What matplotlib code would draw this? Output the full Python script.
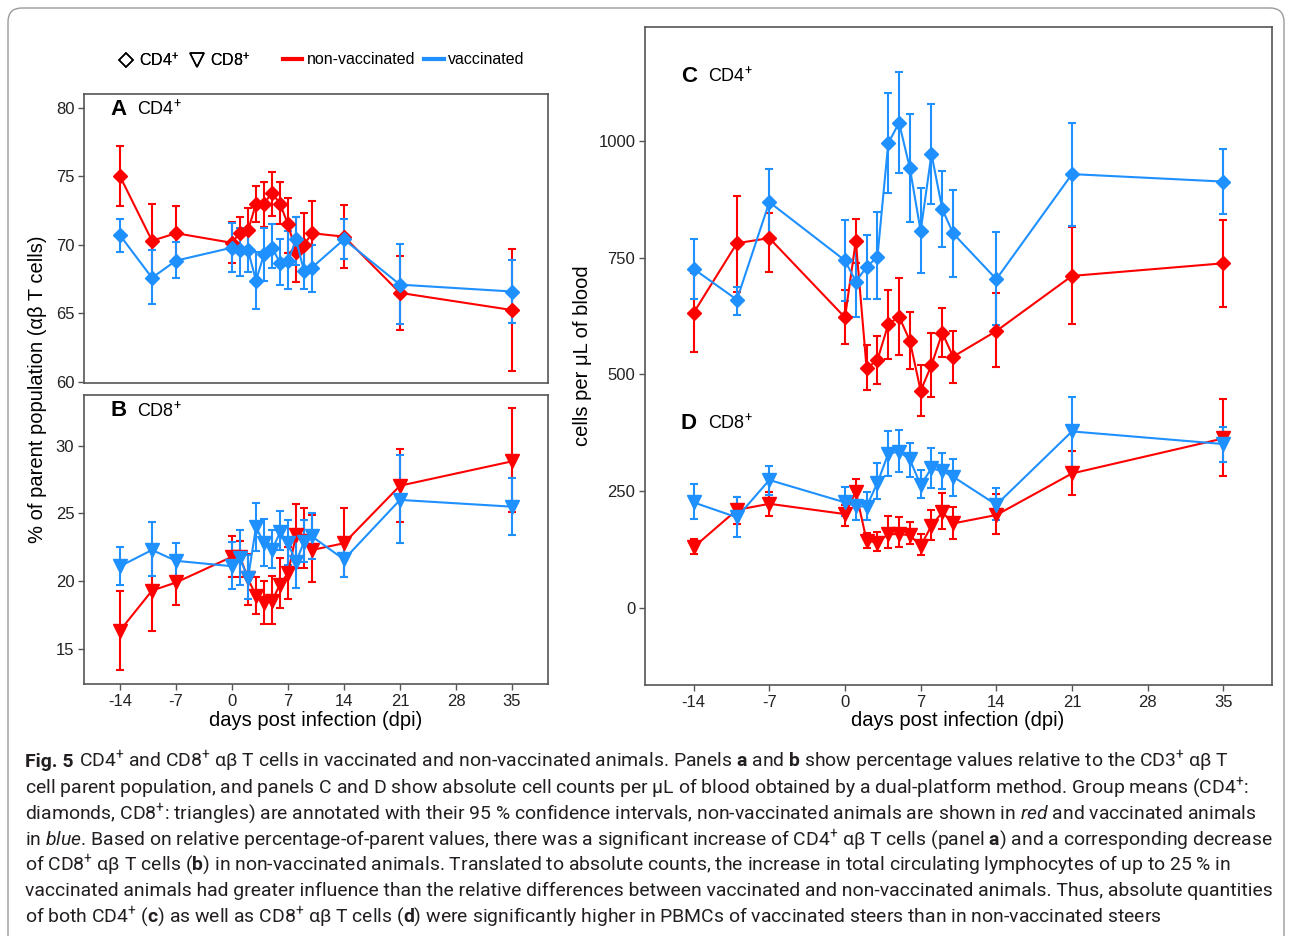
import matplotlib
matplotlib.use("Agg")
import matplotlib.pyplot as plt
from matplotlib.patches import FancyBboxPatch
from matplotlib.lines import Line2D
import numpy as np

plt.rcParams['mathtext.fontset'] = 'custom'
plt.rcParams['mathtext.rm'] = 'Roboto'
plt.rcParams['mathtext.it'] = 'Roboto:italic'
plt.rcParams['mathtext.bf'] = 'Roboto:bold'
plt.rcParams['font.family'] = ['Liberation Sans', 'DejaVu Sans']

# ---------------- data ----------------
days = [-14, -10, -7, 0, 1, 2, 3, 4, 5, 6, 7, 8, 9, 10, 14, 21, 35]
xticks = [-14, -7, 0, 7, 14, 21, 28, 35]

# Panel A: CD4+ % of parent
a_red_mean = [75.0, 70.3, 70.85, 70.15, 70.9, 71.05, 73.0, 73.0, 73.8, 73.0, 71.5, 69.5, 70.0, 70.85, 70.6, 66.5, 65.25]
a_red_lo   = [72.8, 67.6, 68.9, 68.7, 69.8, 69.4, 71.7, 71.3, 72.1, 71.5, 69.4, 67.3, 68.0, 68.3, 68.3, 63.8, 60.8]
a_red_hi   = [77.2, 73.0, 72.8, 71.65, 72.0, 72.7, 74.3, 74.6, 75.3, 74.6, 73.4, 72.0, 72.3, 73.2, 72.9, 69.2, 69.7]
a_blue_mean = [70.7, 67.6, 68.85, 69.8, 69.6, 69.6, 67.4, 69.3, 69.8, 68.7, 68.8, 70.4, 68.1, 68.35, 70.4, 67.1, 66.6]
a_blue_lo   = [69.5, 65.7, 67.6, 68.0, 67.7, 68.05, 65.3, 67.4, 68.3, 67.1, 66.8, 68.5, 66.8, 66.6, 69.0, 64.2, 64.3]
a_blue_hi   = [71.9, 69.6, 70.2, 71.6, 71.2, 71.0, 69.5, 71.2, 71.5, 70.4, 71.0, 72.0, 70.0, 70.0, 71.9, 70.1, 68.9]

# Panel B: CD8+ % of parent
b_red_mean = [16.35, 19.3, 19.9, 21.8, 21.8, 20.2, 18.9, 18.35, 18.55, 19.75, 20.6, 23.4, 23.0, 22.3, 22.8, 27.05, 28.85]
b_red_lo   = [13.4, 16.35, 18.2, 20.3, 20.3, 18.2, 17.55, 16.8, 16.85, 18.0, 18.65, 21.0, 21.0, 19.9, 20.3, 24.4, 25.1]
b_red_hi   = [19.3, 22.3, 21.8, 23.3, 23.0, 22.0, 20.3, 20.0, 20.4, 21.7, 22.5, 25.7, 25.4, 24.85, 25.4, 29.75, 32.8]
b_blue_mean = [21.1, 22.3, 21.5, 21.1, 21.7, 20.2, 24.0, 22.8, 22.3, 23.6, 22.8, 21.4, 22.9, 23.3, 21.6, 26.0, 25.5]
b_blue_lo   = [19.75, 20.4, 20.2, 19.4, 19.7, 18.7, 22.2, 21.1, 21.0, 22.3, 21.2, 19.5, 21.4, 21.6, 20.3, 22.8, 23.4]
b_blue_hi   = [22.5, 24.4, 22.85, 22.9, 23.8, 21.9, 25.8, 24.6, 23.8, 25.2, 24.55, 23.5, 24.5, 25.05, 23.1, 29.3, 27.6]

# Panel C: CD4+ cells per uL
c_red_mean = [632, 781, 792, 622, 786, 513, 531, 607, 624, 572, 465, 520, 589, 538, 593, 711, 738]
c_red_lo   = [549, 677, 720, 565, 738, 466, 479, 533, 542, 512, 411, 451, 538, 481, 517, 608, 645]
c_red_hi   = [717, 883, 845, 681, 832, 562, 583, 681, 706, 633, 520, 588, 642, 592, 674, 816, 831]
c_blue_mean = [726, 660, 869, 744, 699, 730, 752, 995, 1039, 942, 807, 972, 854, 802, 704, 929, 913]
c_blue_lo   = [662, 627, 795, 657, 624, 661, 661, 889, 931, 827, 717, 865, 772, 708, 606, 818, 844]
c_blue_hi   = [790, 688, 940, 831, 784, 799, 847, 1102, 1147, 1058, 899, 1079, 936, 895, 804, 1039, 983]

# Panel D: CD8+ cells per uL
d_red_mean = [130, 210, 223, 201, 249, 144, 140, 158, 158, 156, 133, 176, 205, 181, 199, 288, 363]
d_red_lo   = [116, 180, 197, 176, 226, 128, 121, 129, 131, 137, 113, 146, 169, 147, 158, 242, 283]
d_red_hi   = [147, 238, 249, 221, 276, 160, 163, 196, 194, 183, 158, 210, 246, 217, 244, 337, 448]
d_blue_mean = [226, 194, 274, 226, 218, 217, 268, 330, 335, 318, 263, 299, 293, 281, 221, 378, 351]
d_blue_lo   = [190, 151, 242, 196, 188, 188, 233, 283, 292, 281, 236, 256, 254, 240, 188, 301, 313]
d_blue_hi   = [265, 238, 304, 260, 249, 249, 310, 378, 380, 353, 296, 343, 331, 320, 256, 451, 388]

RED = '#FF0000'
BLUE = '#1E90FF'
SPINE = '#555555'

W, H = 1292, 936
fig = plt.figure(figsize=(W / 100, H / 100), dpi=100)

# overlay axes in pixel coordinates (frame, legend, caption)
ov = fig.add_axes([0, 0, 1, 1], zorder=-1)
ov.set_xlim(0, W)
ov.set_ylim(H, 0)
ov.axis('off')
ov.add_patch(FancyBboxPatch((8, 8), W - 16, H + 40,
                            boxstyle="round,pad=0,rounding_size=14",
                            fc='white', ec='#9a9a9a', lw=1.0))

axA = fig.add_axes([84 / W, 1 - 383 / H, 464 / W, 289 / H])
axB = fig.add_axes([84 / W, 1 - 684 / H, 464 / W, 289 / H])
axC = fig.add_axes([645 / W, 1 - 685 / H, 627 / W, 658 / H])

def style(ax):
    for s in ax.spines.values():
        s.set_color(SPINE)
        s.set_linewidth(1.2)
    ax.tick_params(color=SPINE, length=4, width=1.0, labelsize=12,
                   labelcolor='#222222', pad=3)
    ax.set_xlim(-18.5, 39.5)
    ax.set_xticks(xticks)
    ax.set_xticklabels([str(t) for t in xticks])

def eb(ax, mean, lo, hi, color, marker, ms):
    mean = np.array(mean, float)
    yerr = [mean - np.array(lo, float), np.array(hi, float) - mean]
    ax.errorbar(days, mean, yerr=yerr, color=color, marker=marker, ms=ms,
                mec=color, lw=1.5, elinewidth=1.5, capsize=3, capthick=1.5)

for ax in (axA, axB, axC):
    style(ax)

eb(axA, a_red_mean, a_red_lo, a_red_hi, RED, 'D', 7)
eb(axA, a_blue_mean, a_blue_lo, a_blue_hi, BLUE, 'D', 7)
axA.set_ylim(59.93, 81.0)
axA.set_yticks([60, 65, 70, 75, 80])
axA.tick_params(axis='x', bottom=False, labelbottom=False)

eb(axB, b_red_mean, b_red_lo, b_red_hi, RED, 'v', 10)
eb(axB, b_blue_mean, b_blue_lo, b_blue_hi, BLUE, 'v', 10)
axB.set_ylim(12.4, 33.75)
axB.set_yticks([15, 20, 25, 30])

eb(axC, c_red_mean, c_red_lo, c_red_hi, RED, 'D', 7)
eb(axC, c_blue_mean, c_blue_lo, c_blue_hi, BLUE, 'D', 7)
eb(axC, d_red_mean, d_red_lo, d_red_hi, RED, 'v', 10)
eb(axC, d_blue_mean, d_blue_lo, d_blue_hi, BLUE, 'v', 10)
axC.set_ylim(-165, 1244)
axC.set_yticks([0, 250, 500, 750, 1000])

# panel labels
def plabel(ax, x1, x2, y, letter, name):
    ax.text(x1, y, letter, transform=ax.transAxes, fontsize=16,
            fontweight='bold', va='center', ha='left')
    ax.text(x2, y, name, transform=ax.transAxes, fontsize=13,
            va='center', ha='left')

plabel(axA, 0.058, 0.114, 0.948, 'A', r'CD4$^{+}$')
plabel(axB, 0.058, 0.114, 0.945, 'B', r'CD8$^{+}$')
plabel(axC, 0.057, 0.100, 0.925, 'C', r'CD4$^{+}$')
plabel(axC, 0.057, 0.100, 0.398, 'D', r'CD8$^{+}$')

# axis titles
ov.text(316, 721, 'days post infection (dpi)', fontsize=14.5, ha='center', va='center')
ov.text(958, 721, 'days post infection (dpi)', fontsize=14.5, ha='center', va='center')
ov.text(38, 389, '% of parent population (\u03b1\u03b2 T cells)', fontsize=14.5,
        ha='center', va='center', rotation=90)
ov.text(583, 356, 'cells per \u03bcL of blood', fontsize=14.5,
        ha='center', va='center', rotation=90)

# legends
shape_handles = [Line2D([], [], ls='none', marker='D', ms=7.5, mfc='none', mec='black', mew=1.1),
                 Line2D([], [], ls='none', marker='v', ms=10.5, mfc='none', mec='black', mew=1.1)]
leg1 = fig.legend(shape_handles, [r'CD4$^{+}$', r'CD8$^{+}$'], loc='center',
                  bbox_to_anchor=(184 / W, 1 - 60 / H), ncol=2, frameon=False,
                  fontsize=11.5, handlelength=1.0, handletextpad=0.3,
                  columnspacing=0.6, borderpad=0)
line_handles = [Line2D([], [], color=RED, lw=3), Line2D([], [], color=BLUE, lw=3)]
leg2 = fig.legend(line_handles, ['non-vaccinated', 'vaccinated'], loc='center',
                  bbox_to_anchor=(404 / W, 1 - 60 / H), ncol=2, frameon=False,
                  fontsize=11.5, handlelength=1.2, handletextpad=0.3,
                  columnspacing=0.55, borderpad=0)
fig.add_artist(leg1)

# caption
fig_head = "Fig. 5"
caption = [
    r"CD4$^{+}$ and CD8$^{+}$ αβ T cells in vaccinated and non-vaccinated animals. Panels $\mathbf{a}$ and $\mathbf{b}$ show percentage values relative to the CD3$^{+}$ αβ T",
    r"cell parent population, and panels C and D show absolute cell counts per μL of blood obtained by a dual-platform method. Group means (CD4$^{+}$:",
    r"diamonds, CD8$^{+}$: triangles) are annotated with their 95 % confidence intervals, non-vaccinated animals are shown in $\mathit{red}$ and vaccinated animals",
    r"in $\mathit{blue}$. Based on relative percentage-of-parent values, there was a significant increase of CD4$^{+}$ αβ T cells (panel $\mathbf{a}$) and a corresponding decrease",
    r"of CD8$^{+}$ αβ T cells ($\mathbf{b}$) in non-vaccinated animals. Translated to absolute counts, the increase in total circulating lymphocytes of up to 25 % in",
    r"vaccinated animals had greater influence than the relative differences between vaccinated and non-vaccinated animals. Thus, absolute quantities",
    r"of both CD4$^{+}$ ($\mathbf{c}$) as well as CD8$^{+}$ αβ T cells ($\mathbf{d}$) were significantly higher in PBMCs of vaccinated steers than in non-vaccinated steers",
]
targets = [1168, 1240, 1237, 1245, 1215, 1243, 1138]
CAPC = '#231f20'
head = ov.text(25, 767, fig_head, fontsize=13, family='Roboto', fontweight='bold',
               ha='left', va='baseline', color=CAPC)
cap_texts = []
for i, line in enumerate(caption):
    t = ov.text(25, 767 + i * 25.8, line, fontsize=13, family='Roboto',
                ha='left', va='baseline', color=CAPC)
    cap_texts.append(t)

fig.canvas.draw()
r = fig.canvas.get_renderer()
tot = sum(t.get_window_extent(r).width for t in cap_texts)
fs = 13 * sum(targets) / tot * 0.99
for t in cap_texts:
    t.set_fontsize(fs)
head.set_fontsize(fs)
fig.canvas.draw()
hw = head.get_window_extent(r).width
cap_texts[0].set_x(25 + hw + 0.27 * fs * 100 / 72)

fig.savefig('out.png', dpi=100, facecolor='white')
